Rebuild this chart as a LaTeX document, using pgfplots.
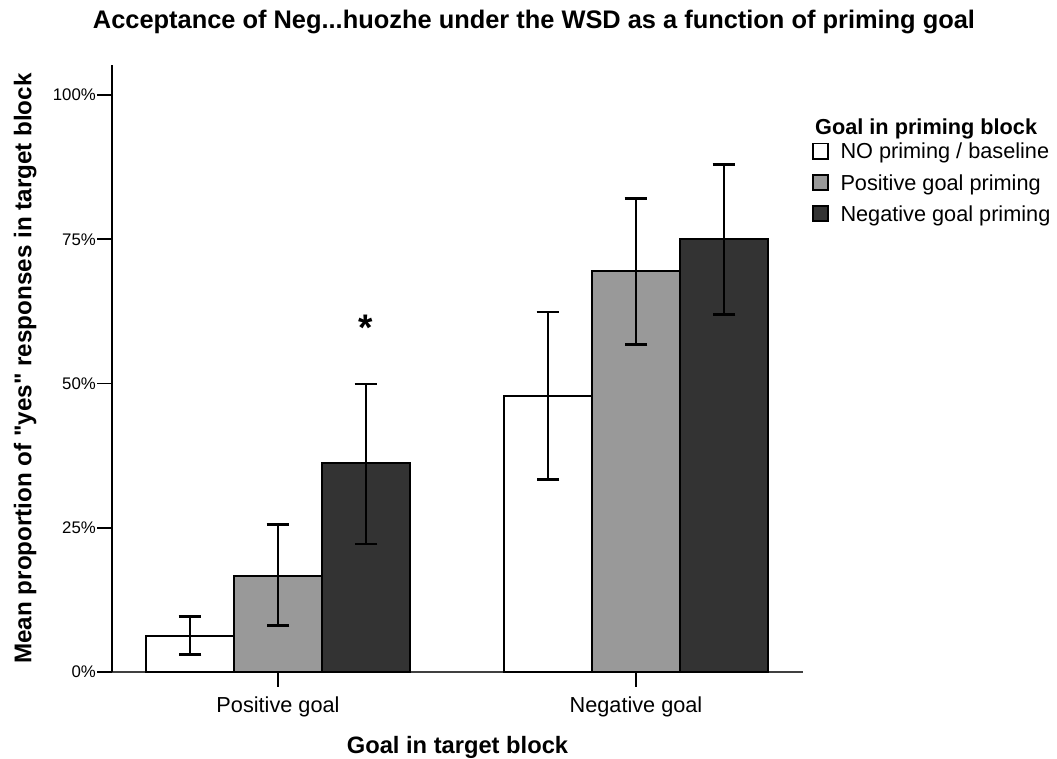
\documentclass[border=0pt]{standalone}
\usepackage{fontspec}
\setmainfont{Liberation Sans}[Ligatures=TeXOff]
\usepackage{pgfplots}
\pgfplotsset{compat=1.18}
\definecolor{midgray}{HTML}{999999}
\definecolor{darkgray}{HTML}{333333}
\begin{document}
\begin{tikzpicture}
\useasboundingbox (0,0) rectangle (1057pt,-758pt);
\begin{axis}[
  at={(112pt,-672pt)}, anchor=south west,
  scale only axis, width=691pt, height=607pt,
  xmin=-0.4637, xmax=1.4665, ymin=0, ymax=105.2,
  ybar=0pt, bar width=88pt,
  axis x line*=bottom, axis y line*=left,
  x axis line style={-, line width=1.1pt, color=black!75},
  y axis line style={-, line width=1.8pt, color=black},
  xtick={0,1}, xticklabels={Positive goal, Negative goal},
  ytick={0,25,50,75,100}, yticklabels={0\%,25\%,50\%,75\%,100\%},
  tick align=outside, major tick length=14.5pt,
  tick style={line width=1.8pt, black},
  minor tick num=0,
  xticklabel style={font=\fontsize{21.7}{26}\selectfont, inner sep=0pt, anchor=north, yshift=-10.5pt},
  yticklabel style={font=\fontsize{16.8}{20}\selectfont, inner sep=1.5pt},
  xlabel={Goal in target block},
  xlabel style={font=\bfseries\fontsize{23.7}{28}\selectfont, at={(axis description cs:0.5,0)}, anchor=base, yshift=-81pt},
  ylabel={Mean proportion of "yes" responses in target block},
  ylabel style={font=\bfseries\fontsize{24.2}{28}\selectfont, at={(axis description cs:-0.1165,0.5)}, anchor=base},
  title={Acceptance of Neg...huozhe under the WSD as a function of priming goal},
  title style={font=\bfseries\fontsize{25.4}{30}\selectfont, at={(axis description cs:0.6107,1.0593)}, anchor=base, yshift=-5pt},
  clip=false,
  error bars/y dir=both, error bars/y explicit,
  error bars/error bar style={line width=2.8pt, black},
  error bars/error mark options={rotate=90, mark size=11.3pt, line width=2.8pt, black},
  legend style={at={(1.01302,0.8722)}, anchor=north west, draw=none, fill=none,
    inner sep=0pt, outer sep=0pt, row sep=14.2pt, column sep=11.5pt,
    font=\fontsize{21.7}{26}\selectfont,
    nodes={inner sep=0pt, text height=15.6pt, text depth=0pt}},
  legend cell align=left,
  legend image code/.code={\draw[#1, line width=1.8pt] (0.9pt,-7.6pt) rectangle (16.1pt,7.6pt);},
]
\addplot[fill=white, draw=black, line width=1.8pt] coordinates {
  (0,6.3) += (0,3.3) -= (0,3.3)
  (1,47.8) += (0,14.6) -= (0,14.5)
};
\addlegendentry{NO priming / baseline}
\addplot[fill=midgray, draw=black, line width=1.8pt] coordinates {
  (0,16.6) += (0,8.9) -= (0,8.6)
  (1,69.5) += (0,12.5) -= (0,12.8)
};
\addlegendentry{Positive goal priming}
\addplot[fill=darkgray, draw=black, line width=1.8pt] coordinates {
  (0,36.2) += (0,13.7) -= (0,14.0)
  (1,75.0) += (0,13.0) -= (0,13.1)
};
\addlegendentry{Negative goal priming}
\node[anchor=base, font=\bfseries\fontsize{37}{37}\selectfont, inner sep=0pt] at (axis cs:0.2458,57.4) {*};
\end{axis}
\node[anchor=base west, font=\bfseries\fontsize{21.7}{26}\selectfont, inner sep=0pt] at (815pt,-134.8pt) {Goal in priming block};
\end{tikzpicture}
\end{document}
